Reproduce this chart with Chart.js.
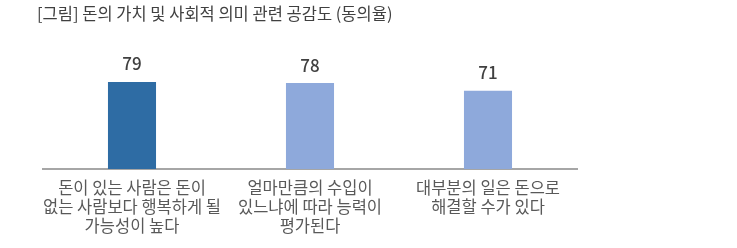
<!DOCTYPE html>
<html>
<head>
<meta charset="utf-8">
<script src="https://cdn.jsdelivr.net/npm/chart.js@4/dist/chart.umd.min.js"></script>
<style>
  html, body { margin: 0; padding: 0; background: #ffffff; }
  #wrap { width: 737px; height: 248px; position: relative; }
</style>
</head>
<body>
<div id="wrap"><canvas id="c" width="737" height="248"></canvas></div>
<script>
const titleText = "[그림] 돈의 가치 및 사회적 의미 관련 공감도 (동의율)";
const categories = [
  ["돈이 있는 사람은 돈이", "없는 사람보다 행복하게 될", "가능성이 높다"],
  ["얼마만큼의 수입이", "있느냐에 따라 능력이", "평가된다"],
  ["대부분의 일은 돈으로", "해결할 수가 있다"]
];
const values = [79, 78, 71];
const barColors = ["#2E6CA4", "#8EA9DB", "#8EA9DB"];

const FONT = "'Noto Sans CJK KR', 'Noto Sans', sans-serif";

const valueLabels = {
  id: 'valueLabels',
  afterDatasetsDraw(chart) {
    const ctx = chart.ctx;
    const meta = chart.getDatasetMeta(0);
    ctx.save();
    ctx.font = "500 17px " + FONT;
    ctx.fillStyle = "#404040";
    ctx.textAlign = "center";
    ctx.textBaseline = "middle";
    meta.data.forEach((bar, i) => {
      ctx.fillText(String(values[i]), bar.x, bar.y - 18);
    });
    ctx.restore();
  }
};

new Chart(document.getElementById('c'), {
  type: 'bar',
  data: {
    labels: categories,
    datasets: [{
      data: values,
      backgroundColor: barColors,
      borderWidth: 0,
      categoryPercentage: 1,
      barPercentage: 0.27
    }]
  },
  options: {
    responsive: false,
    animation: false,
    layout: { padding: { left: 37, right: 160, top: 0, bottom: 3 } },
    plugins: {
      legend: { display: false },
      tooltip: { enabled: false },
      title: {
        display: true,
        text: titleText,
        align: 'start',
        color: '#404040',
        font: { family: FONT, size: 16.5, weight: 'normal', lineHeight: 1.2 },
        padding: { top: 4, bottom: 35 }
      }
    },
    scales: {
      x: {
        grid: { display: false, drawTicks: false },
        border: { display: true, color: '#A6A6A6', width: 2 },
        ticks: {
          color: '#595959',
          font: { family: FONT, size: 16.5, lineHeight: 1.15 },
          padding: 9.5,
          maxRotation: 0,
          autoSkip: false
        }
      },
      y: {
        min: 0,
        max: 100,
        display: true,
        grid: { display: false, drawTicks: false },
        border: { display: false },
        ticks: { display: false },
        afterFit(scale) { scale.width = 6; }
      }
    }
  },
  plugins: [valueLabels]
});
</script>
</body>
</html>
